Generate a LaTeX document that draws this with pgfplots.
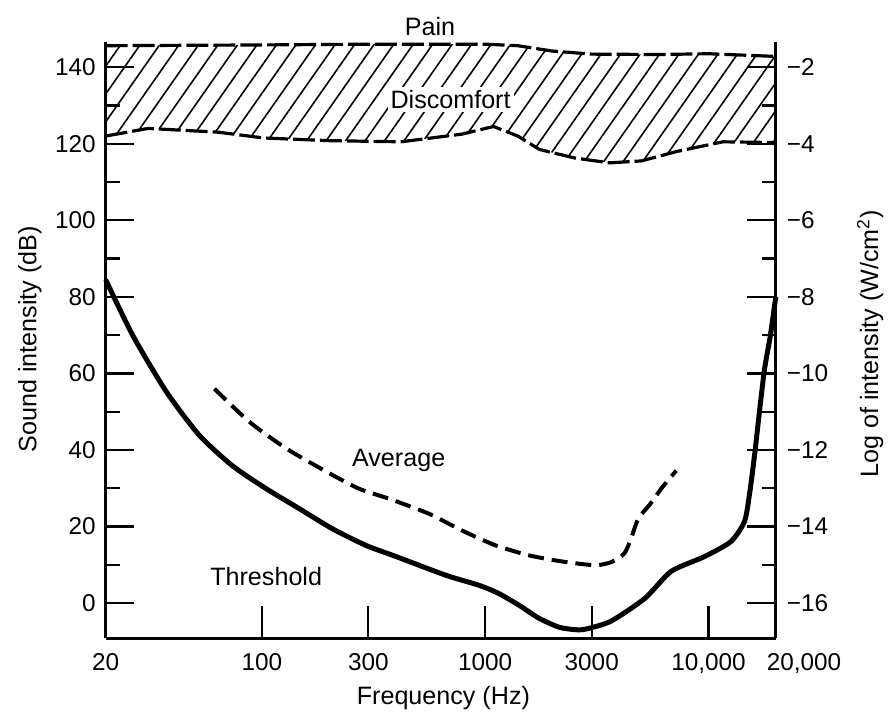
\documentclass[border=0pt]{standalone}
\usepackage{fontspec}
\setmainfont{Liberation Sans}
\usepackage{pgfplots}
\pgfplotsset{compat=1.18}
\usetikzlibrary{patterns.meta}

\pgfplotsset{
  earstyle/.style={
    width=336pt, height=298.9pt, scale only axis,
    ymin=-9.2, ymax=146.5,
    clip=false,
    axis line style={line width=1.4pt},
    tick align=inside,
    major tick length=14.5pt, minor tick length=7pt,
    tick style={black, line width=1.1pt},
    tick label style={font=\fontsize{12.2}{14}\selectfont},
    label style={font=\fontsize{12.6}{15}\selectfont},
    /pgf/number format/assume math mode=true,
  },
  xtickmark/.style={black, line width=1.1pt, forget plot},
}

\begin{document}
\begin{tikzpicture}
\begin{axis}[
  earstyle,
  xmode=log, xmin=20, xmax=20000,
  axis x line*=bottom, axis y line*=left,
  xtick={20,100,300,1000,3000,10000,20000},
  xticklabels={20,100,300,1000,3000,{10,000},{\makebox[0pt][l]{\hspace{-4.5pt}20,000}}},
  minor x tick num=0,
  xticklabel style={yshift=-4pt},
  ytick={0,20,...,140}, minor y tick num=1,
  yticklabel style={xshift=-1.5pt},
  xlabel={Frequency (Hz)},
  ylabel={Sound intensity (dB)},
  xlabel style={at={(rel axis cs:0.504,-0.1)}, anchor=center},
  ylabel style={at={(rel axis cs:-0.113,0.502)}, anchor=center},
]
% hatched band between pain and discomfort
\addplot[draw=none, pattern={Lines[angle=55,distance=8pt,line width=0.8pt]}] coordinates {
  (20,145.6) (100,145.8) (300,146) (1000,146) (1400,145.6) (2000,144.2)
  (3000,143.4) (6000,143.3) (10000,143.5) (20000,142.8)
  (20000,120.3) (11600,120.5) (7240,118) (5000,115.5) (3600,115) (2500,116.3)
  (1750,118.5) (1400,122) (1090,124.5) (786,122.5) (420,120.5) (200,120.8)
  (102,121.5) (64,123) (31,124) (20,122)
} -- cycle;
% boundary of pain
\addplot[black, line width=1.6pt, dash pattern=on 11pt off 2.5pt] coordinates {
  (20,145.6) (100,145.8) (300,146) (1000,146) (1400,145.6) (2000,144.2)
  (3000,143.4) (6000,143.3) (10000,143.5) (20000,142.8)
};
% threshold of discomfort
\addplot[black, line width=1.6pt, dash pattern=on 11pt off 2.5pt] coordinates {
  (20,122) (31,124) (64,123) (102,121.5) (200,120.8) (420,120.5) (786,122.5)
  (1090,124.5) (1400,122) (1750,118.5) (2500,116.3) (3600,115) (5000,115.5)
  (7240,118) (11600,120.5) (20000,120.3)
};

% inward frequency ticks
\addplot[xtickmark] coordinates {(100,-9.2) (100,-0.8)};
\addplot[xtickmark] coordinates {(300,-9.2) (300,-0.8)};
\addplot[xtickmark] coordinates {(1000,-9.2) (1000,-0.8)};
\addplot[xtickmark] coordinates {(3000,-9.2) (3000,-0.8)};
\addplot[xtickmark] coordinates {(10000,-9.2) (10000,-0.8)};

% threshold of hearing
\addplot[black, line width=2.5pt, smooth, tension=0.4] coordinates {
  (20,84.5) (26.4,70) (37.4,55.2) (52.6,43.8) (73.8,35.9) (104.6,29.9)
  (147,24.7) (206,19.5) (292,15.1) (398,12.2) (666,7.3) (934,4.7)
  (1144,2.6) (1414,-0.5) (1736,-3.9) (2132,-6.25) (2500,-6.9) (2808,-6.8)
  (3660,-4.7) (5200,1.3) (6800,8.3) (9620,12.2) (12600,16.1) (14500,21.4)
  (15320,29.2) (16140,39.6) (16960,50.8) (17820,61.2) (18900,69.8) (20000,80)
};
% average hearing
\addplot[black, line width=2pt, dash pattern=on 8pt off 4pt, smooth, tension=0.4] coordinates {
  (61.4,56) (87.8,47.4) (128.6,40.4) (194,34.4) (272,29.9) (370,27.3)
  (558,23.4) (786,19.0) (1112,15.1) (1568,12.5) (2200,10.9) (3112,9.9)
  (3700,10.8) (4200,13.0) (4500,16.9) (4850,22.1) (5500,26) (6140,29.9) (7160,34.6)
};

\node[font=\fontsize{12.6}{15}\selectfont] at (axis cs:566,150.5) {Pain};
\node[font=\fontsize{12.6}{15}\selectfont, fill=white, inner sep=1.5pt] at (axis cs:700,131.5) {Discomfort};
\node[font=\fontsize{12.6}{15}\selectfont] at (axis cs:410,37.2) {Average};
\node[font=\fontsize{12.6}{15}\selectfont] at (axis cs:104.6,7) {Threshold};

\path (rel axis cs:-0.1577,-0.1333) rectangle (rel axis cs:1.1667,1.0709);
\end{axis}

\begin{axis}[
  earstyle,
  xmin=0, xmax=1, ymin=-16.92, ymax=-1.35,
  axis x line=none, axis y line*=right,
  ytick={-16,-14,...,-2},
  yticklabels={−16,−14,−12,−10,−8,−6,−4,−2},
  minor y tick num=1,
  yticklabel style={xshift=2pt},
  ylabel={Log of intensity (W/cm\textsuperscript{2})},
  ylabel style={at={(rel axis cs:1.141,0.494)}, anchor=center},
]
\end{axis}
\end{tikzpicture}
\end{document}
